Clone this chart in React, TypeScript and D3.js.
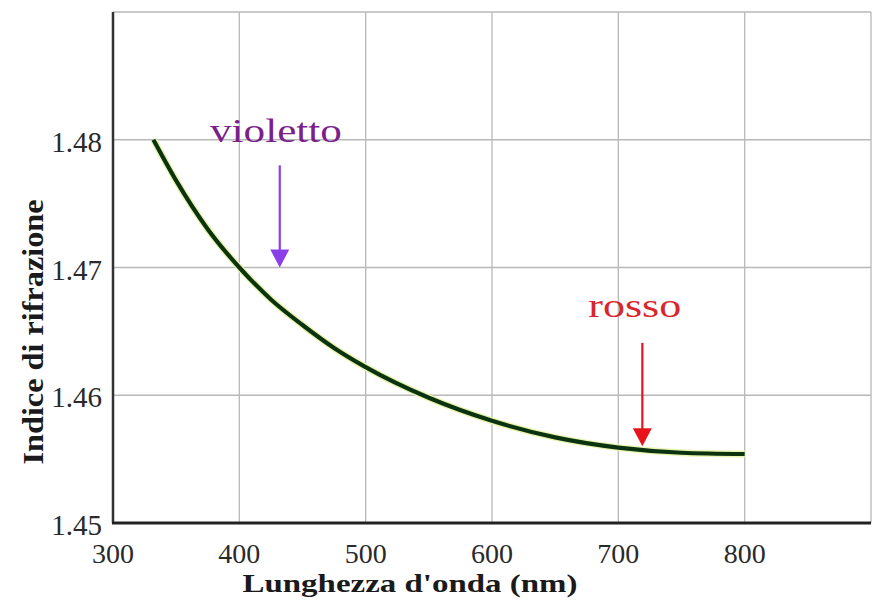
import React from "react";
import * as d3 from "d3";

const wavelengths = [332, 350, 375, 400, 425, 450, 475, 500, 550, 600, 650, 700, 750, 800];
const indices = [1.48, 1.4768, 1.473, 1.47, 1.4675, 1.4655, 1.4637, 1.4622, 1.4598, 1.458, 1.4567, 1.4559, 1.4555, 1.4554];
const xTicks = [300, 400, 500, 600, 700, 800];
const yTicks = [1.45, 1.46, 1.47, 1.48];
const xGrid = [400, 500, 600, 700, 800, 900];
const yGrid = [1.46, 1.47, 1.48, 1.49];

const violetArrow = { x: 432, from: 1.478, to: 1.47, labelX: 429, labelY: 1.4798, label: "violetto" };
const redArrow = { x: 719, from: 1.4641, to: 1.456, labelX: 713, labelY: 1.4661, label: "rosso" };

const W = 876;
const H = 604;
const M = { left: 113, right: 5, top: 12, bottom: 81 };

export default function App() {
  const x = d3.scaleLinear().domain([300, 900]).range([M.left, W - M.right]);
  const y = d3.scaleLinear().domain([1.45, 1.49]).range([H - M.bottom, M.top]);
  const line = d3
    .line<number>()
    .x((_, i) => x(wavelengths[i]))
    .y((d) => y(d))
    .curve(d3.curveMonotoneX);
  const serif = "'Liberation Serif', 'DejaVu Serif', serif";

  const arrow = (a: typeof violetArrow, stroke: string, textFill: string, textLen: number) => {
    const ax = x(a.x);
    const y0 = y(a.from);
    const y1 = y(a.to);
    const hh = 18;
    const hw = 9.5;
    return (
      <g>
        <line x1={ax} x2={ax} y1={y0} y2={y1 - hh + 2} stroke={stroke} strokeWidth={2.2} />
        <path d={`M${ax - hw},${y1 - hh} L${ax + hw},${y1 - hh} L${ax},${y1} Z`} fill={stroke} />
        <text
          x={x(a.labelX)}
          y={y(a.labelY)}
          textAnchor="middle"
          fontFamily={serif}
          fontSize={34}
          fill={textFill}
          textLength={textLen}
          lengthAdjust="spacingAndGlyphs"
        >
          {a.label}
        </text>
      </g>
    );
  };

  return (
    <svg
      width={W}
      height={H}
      style={{ position: "absolute", left: 0, top: 0, background: "#fff" }}
    >
      <rect width={W} height={H} fill="#fff" />
      {xGrid.map((v) => (
        <line key={"gx" + v} x1={x(v)} x2={x(v)} y1={y(1.49)} y2={y(1.45)} stroke="#b8b8b8" strokeWidth={1.3} />
      ))}
      {yGrid.map((v) => (
        <line key={"gy" + v} x1={x(300)} x2={x(900)} y1={y(v)} y2={y(v)} stroke="#b8b8b8" strokeWidth={1.3} />
      ))}
      <line x1={x(300)} x2={x(300)} y1={y(1.49)} y2={y(1.45)} stroke="#333" strokeWidth={2.5} />
      <line x1={x(300) - 1} x2={x(900)} y1={y(1.45)} y2={y(1.45)} stroke="#222" strokeWidth={2.8} />

      <path d={line(indices) || ""} fill="none" stroke="#e9f5b0" strokeWidth={7} strokeLinecap="butt" />
      <path d={line(indices) || ""} fill="none" stroke="#0c3310" strokeWidth={4.2} strokeLinecap="butt" />

      {xTicks.map((v) => (
        <text key={"xt" + v} x={x(v)} y={y(1.45) + 40} textAnchor="middle" fontFamily={serif} fontSize={28} fill="#2a2a2a">
          {v}
        </text>
      ))}
      {yTicks.map((v) => (
        <text key={"yt" + v} x={x(300) - 11} y={y(v) + 12} textAnchor="end" fontFamily={serif} fontSize={29} fill="#2a2a2a">
          {v.toFixed(2)}
        </text>
      ))}

      <text
        x={410}
        y={592}
        textAnchor="middle"
        fontFamily={serif}
        fontWeight="bold"
        fontSize={26}
        fill="#1a1a1a"
        textLength={335}
        lengthAdjust="spacingAndGlyphs"
      >
        Lunghezza d'onda (nm)
      </text>
      <text
        transform={`translate(43,332) rotate(-90)`}
        textAnchor="middle"
        fontFamily={serif}
        fontWeight="bold"
        fontSize={29}
        fill="#1a1a1a"
        textLength={265}
        lengthAdjust="spacingAndGlyphs"
      >
        Indice di rifrazione
      </text>

      {arrow(violetArrow, "#8a3fe8", "#7a1f8c", 132)}
      {arrow(redArrow, "#e8141c", "#d8262c", 93)}
    </svg>
  );
}
